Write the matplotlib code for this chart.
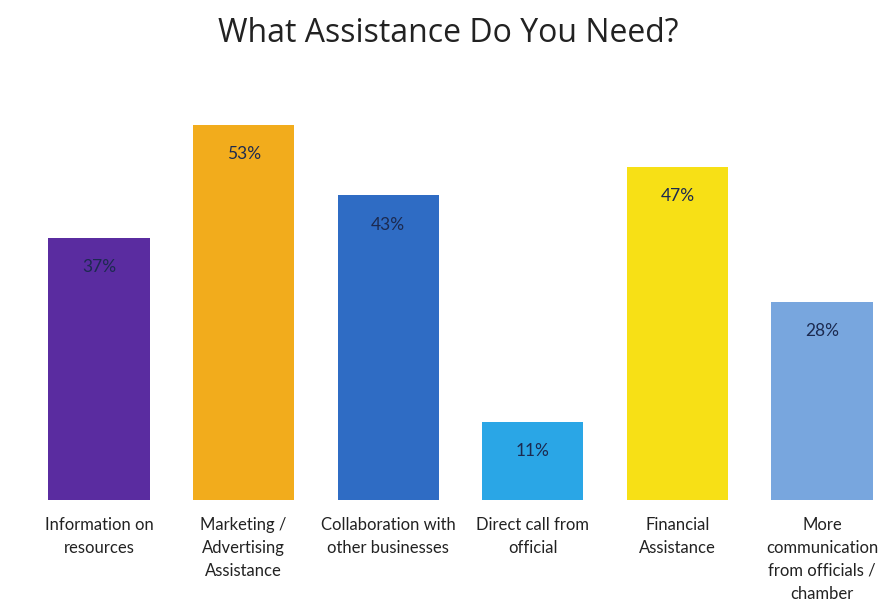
import matplotlib.pyplot as plt

# Survey results
categories = ["Information on\nresources", "Marketing /\nAdvertising\nAssistance",
              "Collaboration with\nother businesses", "Direct call from\nofficial",
              "Financial\nAssistance", "More\ncommunication\nfrom officials /\nchamber"]
values = [37, 53, 43, 11, 47, 28]
bar_colors = ["#5a2ca0", "#f2ac1c", "#2f6cc4", "#2aa6e6", "#f7e016", "#78a6de"]

plt.rcParams["font.family"] = ["Lato", "DejaVu Sans"]

fig = plt.figure(figsize=(8.96, 6.02), dpi=100)
fig.patch.set_facecolor("white")
ax = fig.add_axes([0, 102 / 602, 1, 425 / 602])

x = range(len(values))
bars = ax.bar(x, values, width=0.70, color=bar_colors, edgecolor="none")

# value labels sit just under the top of each bar
for rect, v in zip(bars, values):
    ax.text(rect.get_x() + rect.get_width() / 2, v - 3.0, f"{v}%",
            ha="center", va="top", fontsize=12.5, color="#1c2a50")

ax.set_xlim(-99 / 144.6, (896 - 99) / 144.6)
ax.set_ylim(0, 60)
ax.set_xticks(list(x))
ax.set_xticklabels(categories, fontsize=12, color="#222222", linespacing=1.55)
ax.tick_params(axis="x", length=0, pad=12)
ax.set_yticks([])
for s in ax.spines.values():
    s.set_visible(False)

fig.text(0.5, 1 - 33 / 602, "What Assistance Do You Need?", ha="center", va="center",
         fontsize=23, color="#222222", family=["Open Sans", "DejaVu Sans"])

fig.savefig("out.png", dpi=100)
